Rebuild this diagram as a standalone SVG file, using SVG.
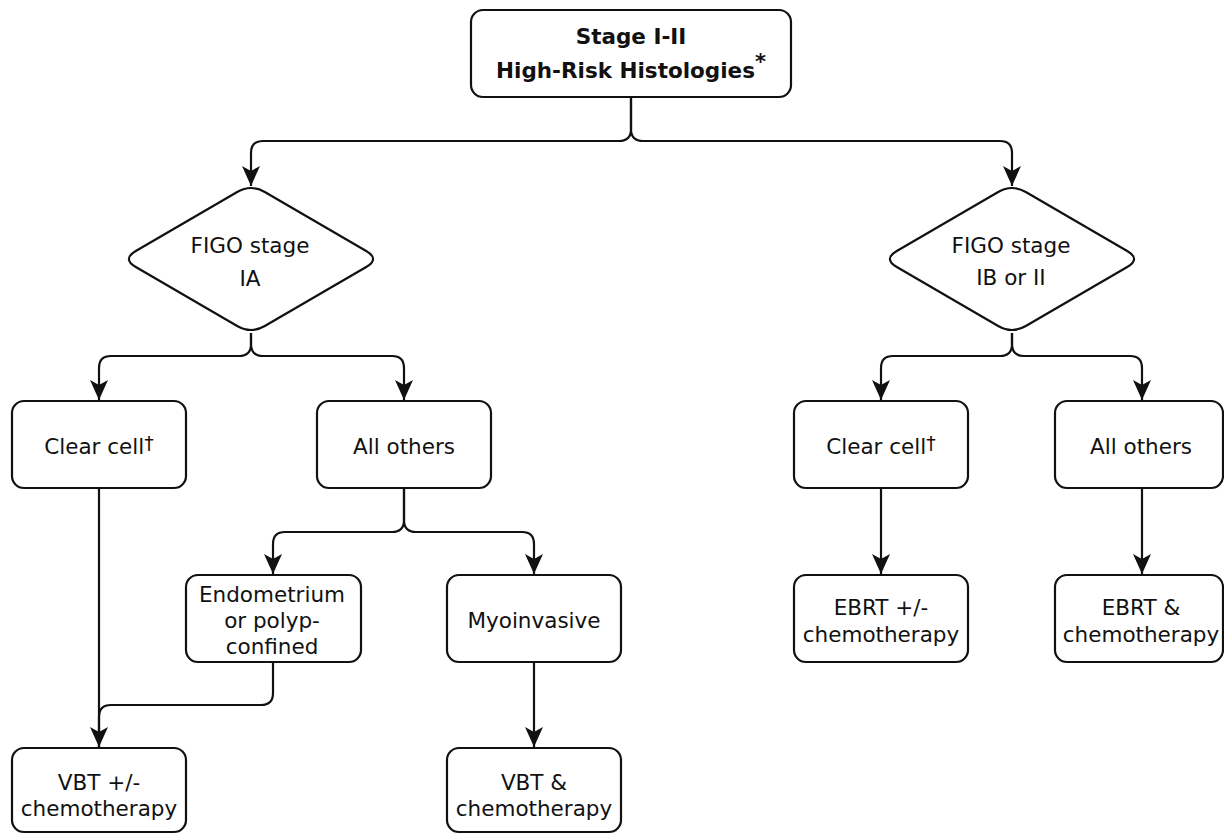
<svg xmlns="http://www.w3.org/2000/svg" width="1224" height="834" viewBox="0 0 1224 834">
<defs>
<style>
.box{fill:#fff;stroke:#111;stroke-width:2.2}
.t{font-family:"DejaVu Sans",Verdana,sans-serif;font-size:21.5px;fill:#111;text-anchor:middle}
.b{font-weight:bold}
.c{fill:none;stroke:#111;stroke-width:2.2}
.dg{font-size:19px}
.ast{font-size:21px}
</style>
<marker id="arr" viewBox="0 0 20 20" markerWidth="20" markerHeight="20" refX="20" refY="10" orient="auto" markerUnits="userSpaceOnUse">
<path d="M0,1 L20,10 L0,19 L5,10 Z" fill="#111"/>
</marker>
</defs>
<rect width="1224" height="834" fill="#fff"/>
<g id="connectors">
<path class="c" d="M631,97 V129 Q631,141 619,141 H263 Q251,141 251,153 V186" marker-end="url(#arr)"/>
<path class="c" d="M631,97 V129 Q631,141 643,141 H1000 Q1012,141 1012,153 V186" marker-end="url(#arr)"/>
<path class="c" d="M251,333 V344 Q251,356 239,356 H111 Q99,356 99,368 V400" marker-end="url(#arr)"/>
<path class="c" d="M251,333 V344 Q251,356 263,356 H392 Q404,356 404,368 V400" marker-end="url(#arr)"/>
<path class="c" d="M1012,333 V344 Q1012,356 1000,356 H893 Q881,356 881,368 V400" marker-end="url(#arr)"/>
<path class="c" d="M1012,333 V344 Q1012,356 1024,356 H1130 Q1142,356 1142,368 V400" marker-end="url(#arr)"/>
<path class="c" d="M404,488 V520 Q404,532 392,532 H285 Q273,532 273,544 V574" marker-end="url(#arr)"/>
<path class="c" d="M404,488 V520 Q404,532 416,532 H522 Q534,532 534,544 V574" marker-end="url(#arr)"/>
<path class="c" d="M99,488 V747"/>
<path class="c" d="M273,662 V693 Q273,705 261,705 H111 Q99,705 99,717 V747" marker-end="url(#arr)"/>
<path class="c" d="M534,662 V747" marker-end="url(#arr)"/>
<path class="c" d="M881,488 V574" marker-end="url(#arr)"/>
<path class="c" d="M1142,488 V574" marker-end="url(#arr)"/>
</g>
<g id="n-top">
<rect class="box" x="471" y="10" width="320" height="87" rx="12"/>
<text class="t b" x="631" y="44">Stage I-II</text>
<text class="t b" x="631" y="78">High-Risk Histologies<tspan class="ast" dy="-9">*</tspan></text>
</g>
<g id="n-figo-ia">
<path class="box" d="M264.8,192 L366.2,251 Q380,259 366.2,267 L264.8,326 Q251,334 237.2,326 L135.8,267 Q122,259 135.8,251 L237.2,192 Q251,184 264.8,192 Z"/>
<text class="t" x="250" y="253">FIGO stage</text>
<text class="t" x="250" y="286">IA</text>
</g>
<g id="n-figo-ib">
<path class="box" d="M1025.8,192 L1127.2,251 Q1141,259 1127.2,267 L1025.8,326 Q1012,334 998.2,326 L896.8,267 Q883,259 896.8,251 L998.2,192 Q1012,184 1025.8,192 Z"/>
<text class="t" x="1011" y="253">FIGO stage</text>
<text class="t" x="1011" y="285">IB or II</text>
</g>
<g id="n-clear1">
<rect class="box" x="12" y="401" width="174" height="87" rx="12"/>
<text class="t" x="99" y="454">Clear cell<tspan class="dg" dy="-4">†</tspan></text>
</g>
<g id="n-others1">
<rect class="box" x="317" y="401" width="174" height="87" rx="12"/>
<text class="t" x="404" y="454">All others</text>
</g>
<g id="n-clear2">
<rect class="box" x="794" y="401" width="174" height="87" rx="12"/>
<text class="t" x="881" y="454">Clear cell<tspan class="dg" dy="-4">†</tspan></text>
</g>
<g id="n-others2">
<rect class="box" x="1055" y="401" width="168" height="87" rx="12"/>
<text class="t" x="1141" y="454">All others</text>
</g>
<g id="n-endo">
<rect class="box" x="186" y="575" width="175" height="87" rx="12"/>
<text class="t" x="272" y="602">Endometrium</text>
<text class="t" x="272" y="628">or polyp-</text>
<text class="t" x="272" y="654">confined</text>
</g>
<g id="n-myo">
<rect class="box" x="447" y="575" width="174" height="87" rx="12"/>
<text class="t" x="534" y="628">Myoinvasive</text>
</g>
<g id="n-ebrt1">
<rect class="box" x="794" y="575" width="174" height="87" rx="12"/>
<text class="t" x="881" y="615">EBRT +/-</text>
<text class="t" x="881" y="642">chemotherapy</text>
</g>
<g id="n-ebrt2">
<rect class="box" x="1055" y="575" width="168" height="87" rx="12"/>
<text class="t" x="1141" y="615">EBRT &amp;</text>
<text class="t" x="1141" y="642">chemotherapy</text>
</g>
<g id="n-vbt1">
<rect class="box" x="12" y="748" width="174" height="84" rx="12"/>
<text class="t" x="99" y="790">VBT +/-</text>
<text class="t" x="99" y="816">chemotherapy</text>
</g>
<g id="n-vbt2">
<rect class="box" x="447" y="748" width="174" height="84" rx="12"/>
<text class="t" x="534" y="790">VBT &amp;</text>
<text class="t" x="534" y="816">chemotherapy</text>
</g>
</svg>
